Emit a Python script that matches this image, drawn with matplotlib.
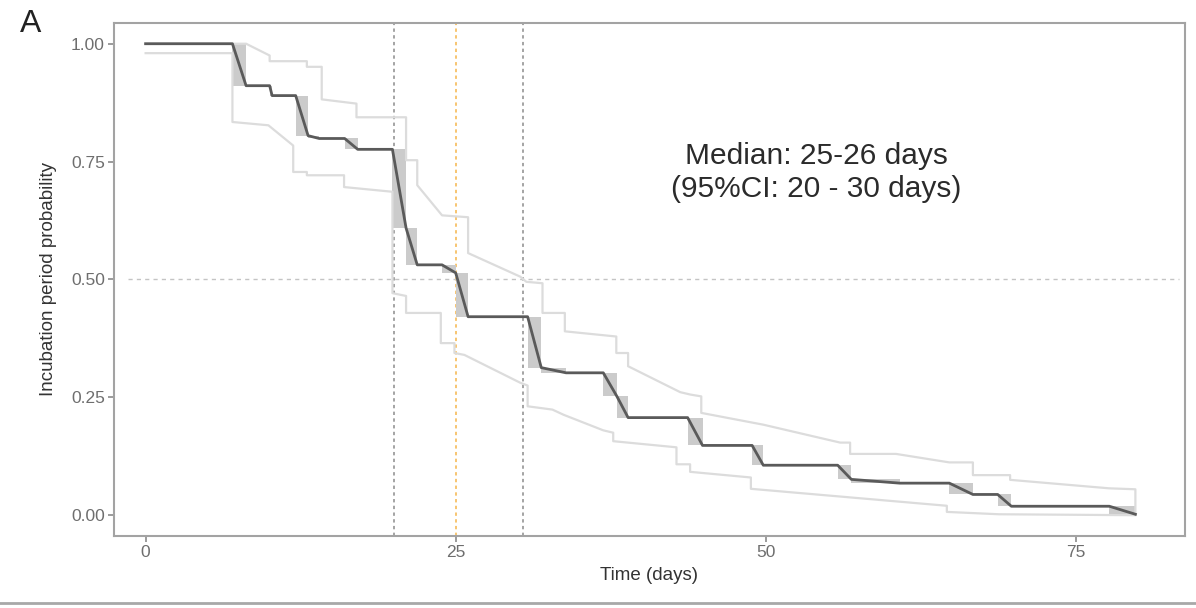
import numpy as np
import matplotlib
matplotlib.use("Agg")
import matplotlib.pyplot as plt
from matplotlib.lines import Line2D

plt.rcParams['font.family'] = ['Liberation Sans', 'DejaVu Sans']

# Turnbull intervals (left, right) and survival after each interval
int_left = [7.0, 10.0, 12.1, 13.1, 16.05, 19.9, 21.0, 23.9, 25.0, 30.8, 31.9,
            36.9, 38.0, 43.7, 48.9, 55.8, 56.9, 64.8, 68.7, 77.7]
int_right = [8.1, 10.2, 13.1, 14.0, 17.1, 21.0, 21.9, 25.0, 26.0, 31.9, 33.9,
             38.0, 38.9, 44.9, 49.8, 56.9, 60.8, 66.7, 69.8, 79.8]
surv = [0.911, 0.890, 0.805, 0.799, 0.776, 0.609, 0.531, 0.514, 0.421, 0.313, 0.302,
        0.252, 0.207, 0.148, 0.106, 0.076, 0.068, 0.044, 0.019, 0.002]

# 95% confidence band
upper_x = [0, 8.1, 10.0, 10.0, 13.0, 13.0, 14.2, 14.2, 17.0, 17.0, 21.0, 21.0, 21.9, 21.9,
           23.9, 26.0, 26.0, 30.2, 30.7, 32.0, 32.0, 33.8, 33.8, 37.95, 37.95, 38.9, 38.9,
           43.1, 43.9, 44.8, 44.8, 49.8, 56.0, 56.8, 56.8, 60.5, 64.8, 66.7, 66.7, 69.7,
           69.7, 77.7, 79.8, 79.8]
upper_y = [1.0, 1.0, 0.975, 0.963, 0.963, 0.951, 0.951, 0.882, 0.873, 0.844, 0.844, 0.753,
           0.753, 0.700, 0.636, 0.632, 0.556, 0.506, 0.495, 0.492, 0.429, 0.429, 0.390, 0.379,
           0.344, 0.344, 0.316, 0.261, 0.256, 0.252, 0.217, 0.192, 0.154, 0.154, 0.130,
           0.130, 0.112, 0.112, 0.085, 0.085, 0.075, 0.057, 0.055, 0.002]
lower_x = [0, 7.0, 7.0, 9.9, 11.9, 11.9, 13.0, 13.0, 16.0, 16.0, 19.9, 19.9, 21.0, 21.0,
           23.8, 23.8, 24.9, 24.9, 25.7, 30.2, 30.8, 30.8, 32.8, 33.7, 36.9, 37.7, 37.7,
           42.8, 42.8, 43.9, 43.9, 48.8, 48.8, 64.6, 64.6, 68.8, 79.8]
lower_y = [0.980, 0.980, 0.834, 0.827, 0.784, 0.728, 0.728, 0.721, 0.721, 0.696, 0.686,
           0.471, 0.465, 0.429, 0.429, 0.365, 0.365, 0.344, 0.340, 0.281, 0.275, 0.231,
           0.224, 0.213, 0.180, 0.175, 0.157, 0.144, 0.108, 0.108, 0.092, 0.080, 0.056,
           0.020, 0.007, 0.002, 0.0]

ci_lines = [20, 30.4]
median_line = 25
x_ticks = [0, 25, 50, 75]
y_ticks = [0.0, 0.25, 0.50, 0.75, 1.00]
y_ticklabels = ['0.00', '0.25', '0.50', '0.75', '1.00']

fig = plt.figure(figsize=(11.96, 6.08), dpi=100)
ax = fig.add_axes([0.0953, 0.1185, 0.8955, 0.8437])

# grey boxes for the intervals
prev = 1.0
for L, R, s in zip(int_left, int_right, surv):
    ax.fill_between([L, R], s, prev, color='#cbcbcb', lw=0, zorder=2)
    prev = s

# main curve, linear through each interval
line_x = [0]
line_y = [1.0]
prev = 1.0
for L, R, s in zip(int_left, int_right, surv):
    line_x += [L, R]
    line_y += [prev, s]
    prev = s

ax.plot(upper_x, upper_y, color='#dcdcdc', lw=1.6, zorder=3)
ax.plot(lower_x, lower_y, color='#dcdcdc', lw=1.6, zorder=3)
ax.plot(line_x, line_y, color='#5a5a5a', lw=2.0, zorder=4, solid_joinstyle='round')

for v in ci_lines:
    ax.axvline(v, color='#8c8c8c', lw=1.1, ls=(0, (2.2, 2.2)), zorder=1)
ax.axvline(median_line, color='#f5b54a', lw=1.1, ls=(0, (2.2, 2.2)), zorder=1)
ax.hlines(0.5, -1.4, 83.3, color='#c4c4c4', lw=1.0, ls=(0, (3, 3)), zorder=1)

ax.text(54.1, 0.727, 'Median: 25-26 days\n(95%CI: 20 - 30 days)', ha='center', va='center',
        fontsize=21.5, color='#2b2b2b', linespacing=1.2)

ax.set_xlim(-2.55, 83.8)
ax.set_ylim(-0.044, 1.044)
ax.set_xticks(x_ticks)
ax.set_yticks(y_ticks)
ax.set_yticklabels(y_ticklabels)
ax.tick_params(axis='both', colors='#8a8a8a', labelcolor='#6e6e6e', labelsize=12.5,
               length=4, width=1.2, pad=2.5)
for sp in ax.spines.values():
    sp.set_color('#a3a3a3')
    sp.set_linewidth(1.5)

ax.set_xlabel('Time (days)', fontsize=13.5, color='#333333', labelpad=5)
ax.set_ylabel('Incubation period probability', fontsize=13.5, color='#333333', labelpad=10)

fig.text(0.017, 0.985, 'A', fontsize=23, va='top', ha='left', color='#222222')
fig.add_artist(Line2D([0, 1], [0.009, 0.009], transform=fig.transFigure,
                      color='#a8a8a8', lw=2))

fig.savefig('out.png', dpi=100)
